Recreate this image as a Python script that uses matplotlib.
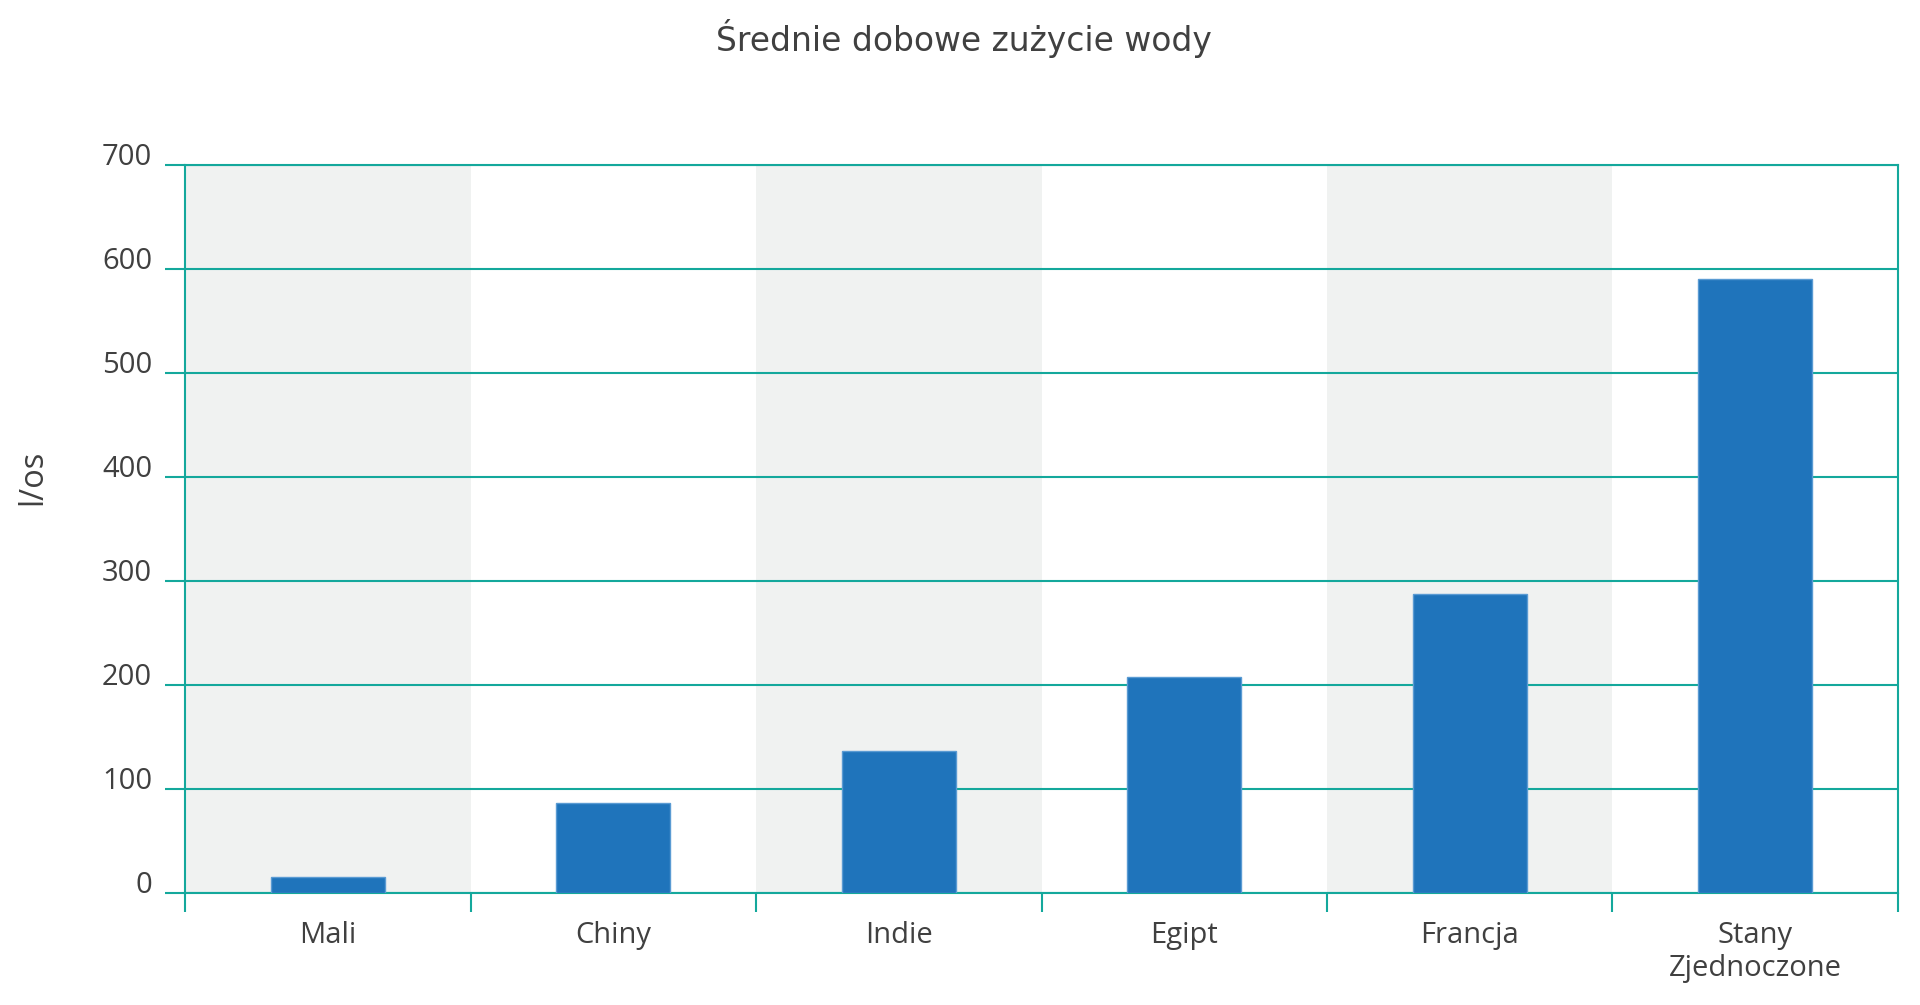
import numpy as np
import matplotlib.pyplot as plt

plt.rcParams['font.family'] = ['Open Sans', 'DejaVu Sans']

# data
countries = ['Mali', 'Chiny', 'Indie', 'Egipt', 'Francja', 'Stany\nZjednoczone']
usage = [15, 87, 137, 208, 288, 590]
yticks = [0, 100, 200, 300, 400, 500, 600, 700]

teal = '#14a89c'
bar_col = '#1f74bb'
shade = '#f0f2f1'
txt = '#404040'

fig = plt.figure(figsize=(19.2, 10.05), dpi=100)
ax = fig.add_axes([0.0964, 0.1114, 0.8921, 0.7244])

x = np.arange(len(countries))

# alternating background bands
for i in x[::2]:
    ax.axvspan(i - 0.5, i + 0.5, color=shade, zorder=0, lw=0)

ax.bar(x, usage, width=0.4, color=bar_col, edgecolor='#5a9bd3', linewidth=1, zorder=3)

ax.set_xlim(-0.5, len(countries) - 0.5)
ax.set_ylim(0, 700)
ax.set_axisbelow(True)

# y axis
ax.set_yticks(yticks)
ax.set_yticklabels([str(v) for v in yticks])
ax.yaxis.grid(True, color=teal, linewidth=1.5)
ax.tick_params(axis='y', length=14.4, width=1.5, color=teal, pad=9.4,
               labelsize=21, labelcolor=txt)
for lab in ax.get_yticklabels():
    lab.set_verticalalignment('baseline')

# x axis: labels at centres, tick marks at boundaries
ax.set_xticks(x)
ax.set_xticklabels(countries)
ax.set_xticks(np.arange(len(countries) + 1) - 0.5, minor=True)
ax.tick_params(axis='x', which='major', length=0, pad=20, labelsize=21, labelcolor=txt)
ax.tick_params(axis='x', which='minor', length=14, width=1.5, color=teal)

for s in ax.spines.values():
    s.set_color(teal)
    s.set_linewidth(1.5)

ax.set_ylabel('l/os', fontsize=23.5, color=txt, va='center')
ax.yaxis.set_label_coords(-0.0887, 0.571)

fig.text(0.502, 0.949, 'Średnie dobowe zużycie wody', ha='center', va='baseline',
         fontsize=23.7, color=txt, family='DejaVu Sans')

fig.savefig('out.png', dpi=100)
